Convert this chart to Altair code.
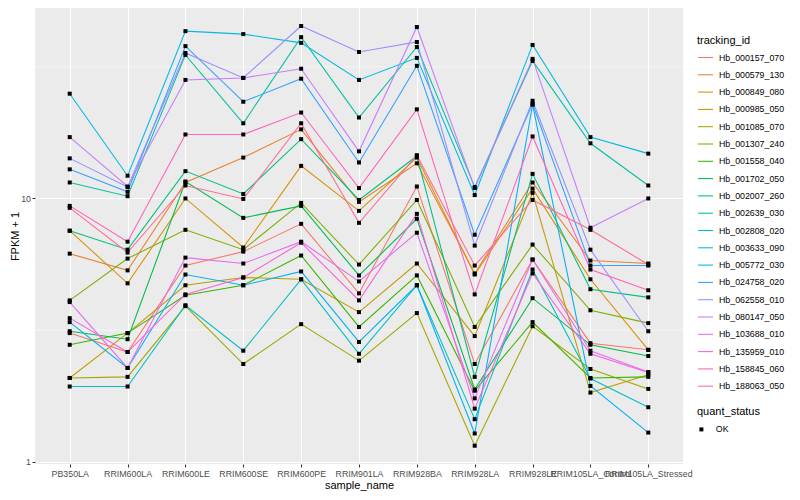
import altair as alt
import pandas as pd

samples = ["PB350LA", "RRIM600LA", "RRIM600LE", "RRIM600SE", "RRIM600PE", "RRIM901LA",
           "RRIM928BA", "RRIM928LA", "RRIM928LE", "RRIM105LA_Control", "RRIM105LA_Stressed"]

tracking_ids = ["Hb_000157_070", "Hb_000579_130", "Hb_000849_080", "Hb_000985_050",
                "Hb_001085_070", "Hb_001307_240", "Hb_001558_040", "Hb_001702_050",
                "Hb_002007_260", "Hb_002639_030", "Hb_002808_020", "Hb_003633_090",
                "Hb_005772_030", "Hb_024758_020", "Hb_062558_010", "Hb_080147_050",
                "Hb_103688_010", "Hb_135959_010", "Hb_158845_060", "Hb_188063_050"]

hb_000157_070 = [3.08, 2.61, 5.56, 6.28, 8.01, 4.36, 11.1, 2.35, 5.86, 2.82, 2.66]
hb_000579_130 = [6.17, 5.33, 11.5, 14.3, 18.3, 9.70, 13.6, 5.19, 11.5, 5.81, 5.66]
hb_000849_080 = [7.54, 4.76, 10.0, 6.51, 13.3, 8.97, 14.3, 5.14, 10.9, 4.93, 2.66]
hb_000985_050 = [2.08, 3.08, 4.68, 5.01, 4.93, 3.70, 5.66, 3.00, 10.5, 1.83, 2.14]
hb_001085_070 = [2.08, 2.10, 3.90, 2.35, 3.33, 2.42, 3.67, 1.15, 3.27, 2.25, 1.89]
hb_001307_240 = [4.10, 5.91, 7.60, 6.39, 9.62, 5.61, 9.87, 3.25, 6.68, 3.76, 3.36]
hb_001558_040 = [2.78, 3.08, 4.29, 4.68, 6.07, 3.25, 5.10, 1.86, 3.39, 2.08, 2.10]
hb_001702_050 = [3.13, 2.92, 11.6, 8.44, 9.37, 5.10, 8.37, 1.88, 4.18, 2.78, 2.52]
hb_002007_260 = [7.54, 6.39, 12.7, 10.4, 16.8, 9.87, 14.5, 2.10, 12.4, 4.52, 4.21]
hb_002639_030 = [11.5, 10.2, 35.1, 19.3, 41.0, 20.3, 37.6, 11.05, 33.3, 16.2, 11.2]
hb_002808_020 = [1.93, 1.93, 3.93, 2.64, 4.93, 2.57, 4.68, 1.45, 5.37, 2.07, 1.61]
hb_003633_090 = [25.0, 12.2, 43.2, 42.1, 39.0, 28.2, 34.2, 10.3, 38.3, 17.1, 14.8]
hb_005772_030 = [3.39, 2.27, 5.14, 4.68, 5.28, 2.85, 4.68, 1.28, 22.7, 1.94, 1.29]
hb_024758_020 = [12.9, 10.6, 37.9, 23.3, 28.5, 13.7, 31.9, 7.28, 22.9, 5.56, 5.56]
hb_062558_010 = [14.2, 11.05, 35.7, 28.7, 45.2, 36.0, 39.3, 6.62, 23.5, 6.39, 3.13]
hb_080147_050 = [17.1, 11.1, 28.2, 28.7, 31.1, 15.1, 44.8, 10.95, 33.9, 7.74, 10.0]
hb_103688_010 = [4.04, 2.27, 5.96, 5.66, 6.85, 4.84, 7.41, 1.74, 5.86, 2.64, 2.19]
hb_135959_010 = [3.51, 2.61, 4.32, 5.01, 6.79, 4.10, 8.74, 1.59, 5.19, 2.57, 2.18]
hb_158845_060 = [9.37, 6.85, 17.5, 17.5, 21.2, 10.95, 21.8, 4.32, 17.2, 5.37, 4.48]
hb_188063_050 = [9.21, 6.23, 11.2, 9.96, 19.3, 8.08, 14.6, 5.56, 9.87, 7.60, 5.61]

series_values = [hb_000157_070, hb_000579_130, hb_000849_080, hb_000985_050, hb_001085_070,
                 hb_001307_240, hb_001558_040, hb_001702_050, hb_002007_260, hb_002639_030,
                 hb_002808_020, hb_003633_090, hb_005772_030, hb_024758_020, hb_062558_010,
                 hb_080147_050, hb_103688_010, hb_135959_010, hb_158845_060, hb_188063_050]

palette = ["#F8766D", "#EA8331", "#D89000", "#C09B00", "#A3A500", "#7CAE00", "#39B600",
           "#00BB4E", "#00BF7D", "#00C1A3", "#00BFC4", "#00BAE0", "#00B0F6", "#35A2FF",
           "#9590FF", "#C77CFF", "#E76BF3", "#FA62DB", "#FF62BC", "#FF6C91"]

y_major_ticks = [1, 10]
y_minor_ticks = [3.1623, 31.623]

rows = []
for tid, vals in zip(tracking_ids, series_values):
    for s, v in zip(samples, vals):
        rows.append({"sample_name": s, "tracking_id": tid, "value": v, "quant_status": "OK"})
df = pd.DataFrame(rows)
minor_df = pd.DataFrame({"value": y_minor_ticks})

FONT = "Liberation Sans"

x_enc = alt.X("sample_name:N", sort=samples,
              scale=alt.Scale(type="point", padding=0.6),
              axis=alt.Axis(title="sample_name", labelAngle=0, labelOverlap=False,
                            labelBound=False, labelFlush=False, labelPadding=2,
                            titlePadding=2))
y_enc = alt.Y("value:Q",
              scale=alt.Scale(type="log", domain=[0.98, 52.9]),
              axis=alt.Axis(title="FPKM + 1", values=y_major_ticks, format="d",
                            labelPadding=1.5, titlePadding=0))

minor = alt.Chart(minor_df).mark_rule(color="white", strokeWidth=0.53).encode(y=y_enc)

lines = alt.Chart(df).mark_line(strokeWidth=1.07).encode(
    x=x_enc, y=y_enc,
    color=alt.Color("tracking_id:N",
                    scale=alt.Scale(domain=tracking_ids, range=palette),
                    legend=alt.Legend(title="tracking_id", orient="none",
                                      legendX=662, legendY=27,
                                      symbolType="stroke", symbolSize=225,
                                      symbolStrokeWidth=1.07, rowPadding=3.3,
                                      labelOffset=5, titlePadding=3)),
    detail="tracking_id:N",
)

points = alt.Chart(df).mark_point(size=16, filled=True, color="black", opacity=1).encode(
    x=x_enc, y=y_enc,
    shape=alt.Shape("quant_status:N",
                    scale=alt.Scale(domain=["OK"], range=["square"]),
                    legend=alt.Legend(title="quant_status", orient="none",
                                      legendX=662, legendY=398,
                                      symbolSize=16, symbolFillColor="black",
                                      symbolStrokeColor="black", symbolOpacity=1,
                                      labelOffset=10, titlePadding=8)),
)

chart = alt.layer(minor, lines, points).properties(
    width=648, height=456,
    autosize=alt.AutoSizeParams(type="none"),
    padding={"left": 27, "top": 0, "right": 105, "bottom": 28},
    background="white",
).configure_view(
    fill="#EBEBEB", stroke=None
).configure_axis(
    grid=True, gridColor="white", gridWidth=1.07, domain=False,
    tickColor="#333333", tickSize=3, tickWidth=1.07,
    labelColor="#4D4D4D", labelFontSize=8.8, labelFont=FONT,
    titleFont=FONT, titleFontSize=11, titleColor="black", titleFontWeight="normal",
).configure_legend(
    labelFont=FONT, labelFontSize=8.8, labelColor="black",
    titleFont=FONT, titleFontSize=11, titleColor="black", titleFontWeight="normal",
    padding=0,
)

chart.save("out.html", embed_options={"renderer": "svg", "actions": False})
